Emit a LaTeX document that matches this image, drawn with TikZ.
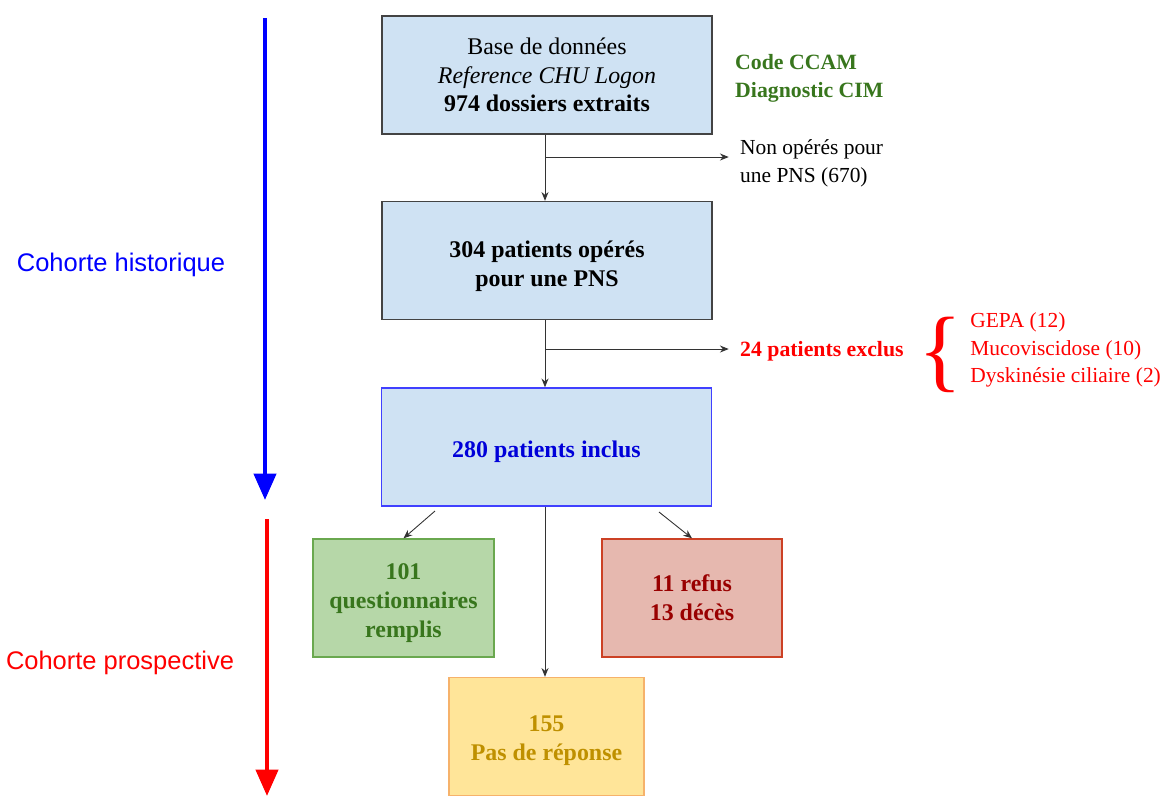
\documentclass[tikz,border=0pt]{standalone}
\usepackage{fontspec}
\setmainfont{Liberation Serif}
\setsansfont{Liberation Sans}
\usetikzlibrary{arrows.meta}

\definecolor{boxblue}{HTML}{CFE2F3}
\definecolor{boxgreen}{HTML}{B6D7A8}
\definecolor{linegreen}{HTML}{6AA84F}
\definecolor{textgreen}{HTML}{38761D}
\definecolor{boxred}{HTML}{E6B8AF}
\definecolor{linered}{HTML}{CC4125}
\definecolor{textred}{HTML}{990000}
\definecolor{boxyellow}{HTML}{FFE599}
\definecolor{lineyellow}{HTML}{F6B26B}
\definecolor{textyellow}{HTML}{BF9000}
\definecolor{boxgray}{HTML}{434343}

\newcommand{\haut}[1]{\rule{0pt}{#1}}

\tikzset{
  etape/.style={draw=boxgray, line width=0.8pt, fill=boxblue, align=center,
    minimum width=330*0.02cm, minimum height=118*0.02cm, inner sep=0pt,
    font=\fontsize{13.6}{16.3}\selectfont},
  cause/.style={anchor=west, inner sep=0pt, text=red},
  fleche/.style={-{Stealth[length=5pt,width=4pt]}, line width=0.5pt, draw=black!80},
  grande/.style={-{Triangle[length=15pt,width=12.5pt]}, line width=2.4pt},
}

\begin{document}
\begin{tikzpicture}[x=0.02cm, y=-0.02cm, font=\fontsize{12.2}{15.8}\selectfont]
    \useasboundingbox (0,0) rectangle (1169,796);

    % les deux grandes flèches à gauche
    \draw[grande, blue] (265,18) -- (265,500);
    \draw[grande, red] (267,519) -- (267,796);
    \node[blue, font=\sffamily\fontsize{14.5}{16}\selectfont] (historique) at (121,265) {Cohorte historique};
    \node[red, font=\sffamily\fontsize{14.5}{16}\selectfont] (prospective) at (120,663) {Cohorte prospective};

    % boîtes principales
    \node[etape] (base) at (547,75) {Base de données\\ \textit{Reference CHU Logon}\\ \textbf{974 dossiers extraits}};
    \node[etape] (operes) at (547,260.5) {\haut{16pt}\textbf{304 patients opérés}\\ \textbf{pour une PNS}};
    \node[etape, draw=blue!75] (inclus) at (546.5,447) {\haut{15pt}\textcolor{blue!85!black}{\textbf{280 patients inclus}}};

    % boîtes du bas
    \node[etape, fill=boxgreen, draw=linegreen, minimum width=181*0.02cm, text=textgreen,
      font=\bfseries\fontsize{13.6}{16.5}\selectfont] (remplis) at (403.5,598) {\haut{14.8pt}101\\ questionnaires\\ remplis};
    \node[etape, fill=boxred, draw=linered, minimum width=180*0.02cm, text=textred,
      font=\bfseries\fontsize{13.6}{16.5}\selectfont] (refus) at (692,598) {11 refus\\ 13 décès};
    \node[etape, fill=boxyellow, draw=lineyellow, minimum width=195*0.02cm, text=textyellow,
      font=\bfseries\fontsize{13.6}{16.5}\selectfont] (reponse) at (546.5,736.5) {\haut{14pt}155\\ Pas de réponse};

    % textes à droite
    \node[anchor=west, align=left, text=textgreen, font=\bfseries\fontsize{12.4}{15.8}\selectfont] (codes) at (729,78.5) {Code CCAM\\ Diagnostic CIM};
    \node[anchor=west, align=left] (nonoperes) at (734,163) {Non opérés pour\\ une PNS (670)};
    \node[anchor=west, text=red, font=\bfseries\fontsize{12.4}{15.8}\selectfont] (exclus) at (734,351) {24 patients exclus};
    \node[red, inner sep=0pt, font=\fontsize{52}{52}\selectfont] (accolade) at (940,355) {\{};
    \node[cause] (gepa) at (970,322) {GEPA (12)};
    \node[cause] (muco) at (970,350) {Mucoviscidose (10)};
    \node[cause] (dysk) at (970,377.5) {Dyskinésie ciliaire (2)};

    % liaisons
    \coordinate (coude1) at (545,157);
    \coordinate (coude2) at (545,349);
    \coordinate (depart1) at (435,511);
    \coordinate (depart2) at (659,512);
    \draw[fleche] (base.south -| coude1) -- (operes.north -| coude1);
    \draw[fleche, shorten >=3pt] (coude1) -- (nonoperes.west |- coude1);
    \draw[fleche] (operes.south -| coude2) -- (inclus.north -| coude2);
    \draw[fleche, shorten >=3pt] (coude2) -- (exclus.west |- coude2);
    \draw[fleche] (inclus.south -| coude2) -- (reponse.north -| coude2);
    \draw[fleche] (depart1) -- (remplis.north);
    \draw[fleche] (depart2) -- (refus.north);

\end{tikzpicture}
\end{document}
